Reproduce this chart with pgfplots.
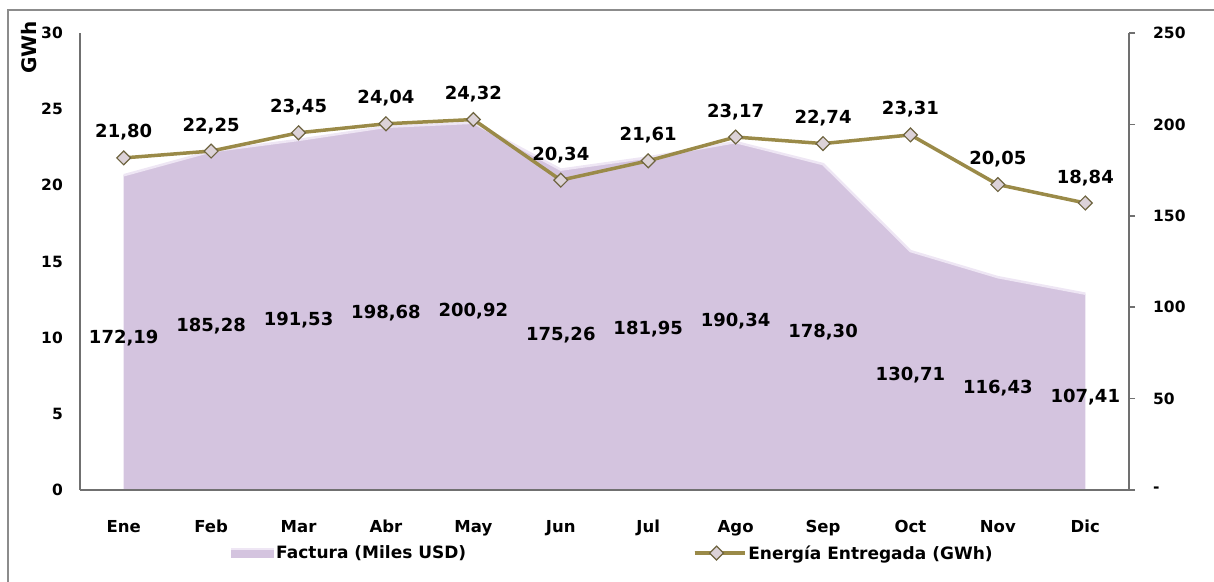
\documentclass[border=0pt]{standalone}
\usepackage{pgfplots}
\pgfplotsset{compat=1.18}
\usepackage{pgfplotstable}
\usepackage{fontspec}
\setmainfont{DejaVu Sans}
\definecolor{lav}{HTML}{D4C4DF}
\definecolor{lavedge}{HTML}{EEE6F4}
\definecolor{olivec}{HTML}{9A8A48}
\definecolor{mkfill}{HTML}{DCD2D8}
\definecolor{mkdraw}{HTML}{6E6440}
\definecolor{axgray}{HTML}{707070}
\definecolor{framegray}{HTML}{8C8C8C}

\pgfplotstableread{
x fac half lab
0 172.19 86.095 172,19
1 185.28 92.64 185,28
2 191.53 95.765 191,53
3 198.68 99.34 198,68
4 200.92 100.46 200,92
5 175.26 87.63 175,26
6 181.95 90.975 181,95
7 190.34 95.17 190,34
8 178.30 89.15 178,30
9 130.71 65.355 130,71
10 116.43 58.215 116,43
11 107.41 53.705 107,41
}\factura

\pgfplotstableread{
x e lab
0 21.80 21,80
1 22.25 22,25
2 23.45 23,45
3 24.04 24,04
4 24.32 24,32
5 20.34 20,34
6 21.61 21,61
7 23.17 23,17
8 22.74 22,74
9 23.31 23,31
10 20.05 20,05
11 18.84 18,84
}\energia

\pgfplotsset{common/.style={
  scale only axis, width=1049bp, height=457bp,
  at={(80bp,92bp)}, anchor=south west,
  xmin=-0.5, xmax=11.5, clip=false,
  axis line style={-, draw=axgray, line width=1.8bp},
  tick style={draw=axgray, line width=1.5bp},
  every tick label/.append style={font=\fontsize{15.5bp}{18bp}\selectfont\bfseries},
  legend style={draw=none, fill=none, inner sep=0pt, font=\fontsize{17bp}{20bp}\selectfont\bfseries},
}}

\begin{document}
\begin{tikzpicture}
\path[use as bounding box] (0,0) rectangle (1214bp,582bp);
\draw[framegray, line width=1.5bp] (8bp,-5bp) -- (8bp,572bp) -- (1225bp,572bp);

\begin{axis}[common,
  ymin=0, ymax=250,
  axis x line=none,
  axis y line*=right,
  ytick={0,50,100,150,200,250}, yticklabels={-,50,100,150,200,250},
  yticklabel style={anchor=west, inner sep=0pt, xshift=18bp},
  tick align=outside, major tick length=6bp,
  legend style={at={(rel axis cs:0.144,-0.138)}, anchor=west},
]
\addplot[fill=lav, draw=none,
  legend image code/.code={\fill[lav] (0bp,-5bp) rectangle (43bp,5bp); \fill[lavedge] (0bp,3bp) rectangle (43bp,5bp);}]
  table[x=x,y=fac]{\factura} \closedcycle;
\addlegendentry{Factura (Miles USD)}
\addplot[lavedge, line width=2.5bp, forget plot] table[x=x,y=fac]{\factura};
\addplot[draw=none, forget plot, nodes near coords, point meta=explicit symbolic,
  every node near coord/.style={anchor=center, inner sep=0pt, text=black, yshift=-5bp,
    font=\fontsize{18bp}{21bp}\selectfont\bfseries}]
  table[x=x,y=half,meta=lab]{\factura};
\end{axis}

\begin{axis}[common,
  ymin=0, ymax=30,
  axis x line*=bottom, axis y line*=left,
  xtick={0,1,2,3,4,5,6,7,8,9,10,11},
  xticklabels={Ene,Feb,Mar,Abr,May,Jun,Jul,Ago,Sep,Oct,Nov,Dic},
  ytick={0,5,10,15,20,25,30}, yticklabels={0,5,10,15,20,25,30},
  major tick length=0pt,
  xticklabel style={anchor=base, inner sep=0pt, yshift=-42bp, font=\fontsize{16.5bp}{19bp}\selectfont\bfseries},
  yticklabel style={anchor=east, inner sep=0pt, xshift=-17bp},
  ylabel={GWh},
  ylabel style={at={(rel axis cs:-0.0486,0.969)}, anchor=center, inner sep=0pt,
    font=\fontsize{20bp}{24bp}\selectfont\bfseries},
  legend style={at={(rel axis cs:0.584,-0.138)}, anchor=west},
]
\addplot[olivec, line width=3.5bp,
  mark=square*, mark size=4.9bp,
  mark options={rotate=45, fill=mkfill, draw=mkdraw, line width=1.2bp, solid},
  nodes near coords, point meta=explicit symbolic,
  every node near coord/.style={anchor=base, yshift=20bp, inner sep=0pt, text=black,
    font=\fontsize{18bp}{21bp}\selectfont\bfseries},
  legend image code/.code={\path (0bp,0bp) -- (50bp,0bp); \draw[olivec, line width=3.5bp, mark=square*, mark size=4.9bp, mark options={rotate=45, fill=mkfill, draw=mkdraw, line width=1.2bp, solid}, mark repeat=2, mark phase=2] plot coordinates {(0bp,0bp) (22bp,0bp) (44bp,0bp)};}]
  table[x=x,y=e,meta=lab]{\energia};
\addlegendentry{Energía Entregada (GWh)}
\end{axis}
\end{tikzpicture}
\end{document}
